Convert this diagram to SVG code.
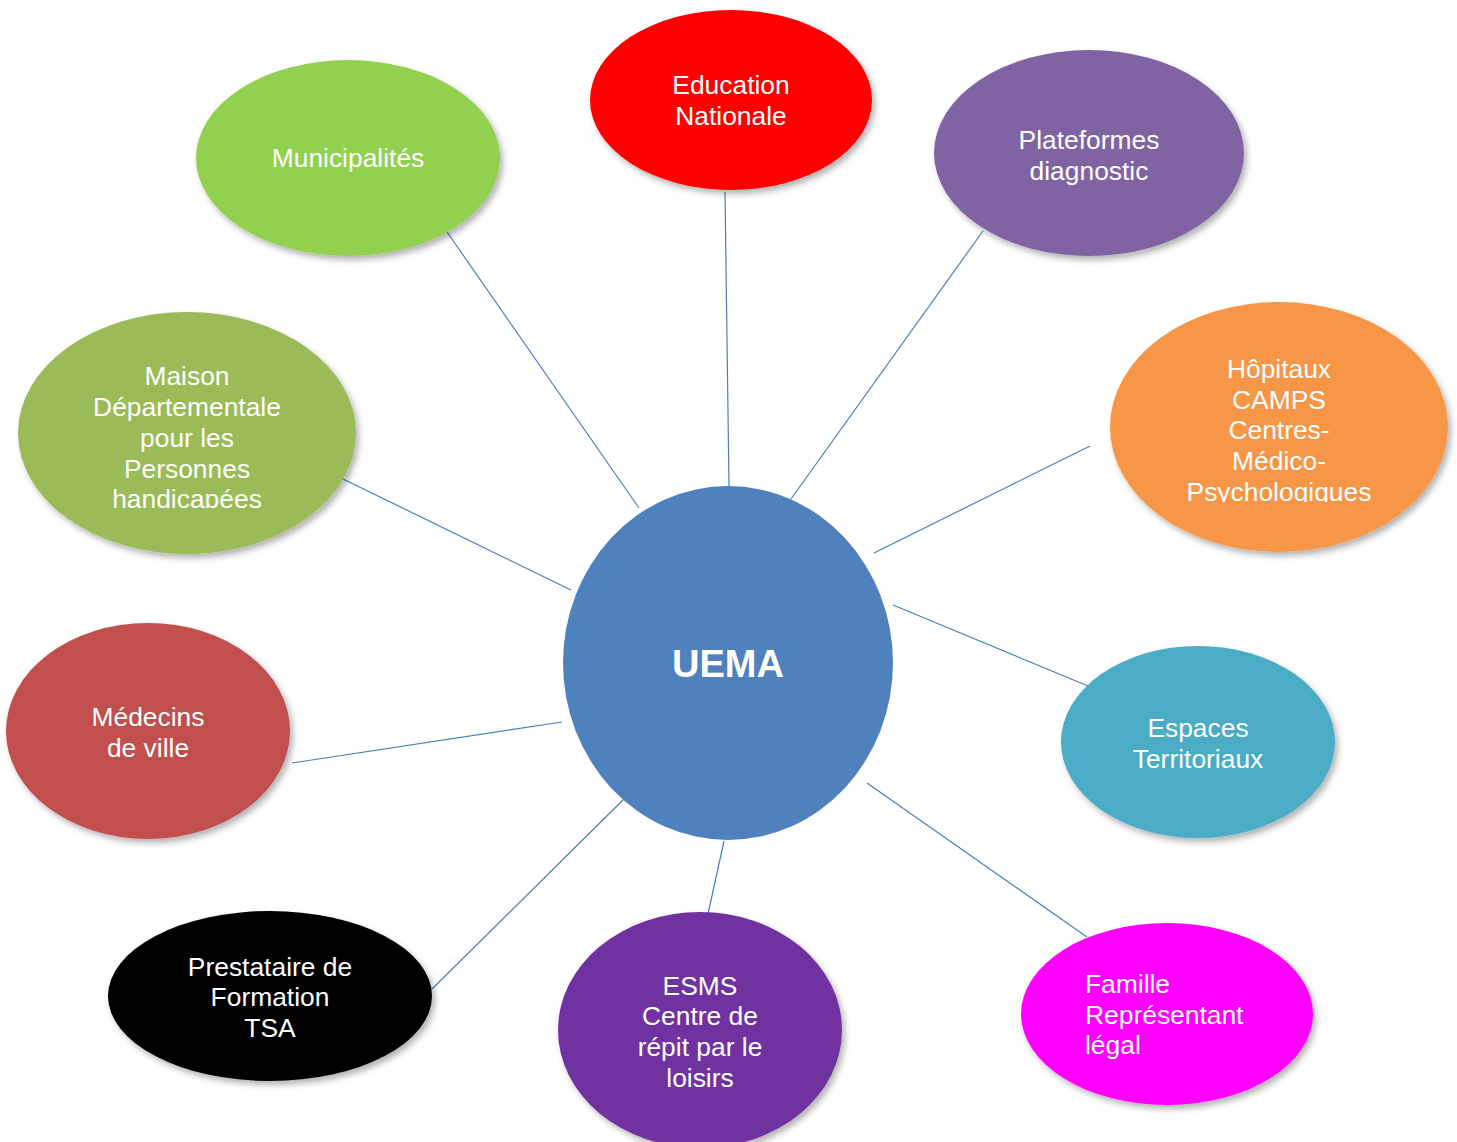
<svg xmlns="http://www.w3.org/2000/svg" width="1457" height="1142" viewBox="0 0 1457 1142">
<style>
.lbl{font-family:"Liberation Sans",Arial,sans-serif;font-size:26.4px;fill:#fff;text-anchor:middle}
.conn line{stroke:#4A7EBB;stroke-width:1.2}
</style>
<defs>
<filter id="sh" x="-10%" y="-10%" width="125%" height="130%">
<feDropShadow dx="3" dy="4" stdDeviation="3" flood-color="#000" flood-opacity="0.3"/>
</filter>
<clipPath id="cMaison"><rect x="0" y="300" width="400" height="208"/></clipPath>
<clipPath id="cHop"><rect x="1100" y="290" width="357" height="212"/></clipPath>
</defs>
<rect width="1457" height="1142" fill="#fff"/>
<g id="connectors" class="conn">
<line x1="447" y1="232" x2="639" y2="508"/>
<line x1="725" y1="192" x2="729" y2="486"/>
<line x1="983" y1="231" x2="791" y2="499"/>
<line x1="1090" y1="446" x2="874" y2="553"/>
<line x1="343" y1="479" x2="571" y2="590"/>
<line x1="893" y1="605" x2="1088" y2="686"/>
<line x1="292" y1="763" x2="562" y2="722"/>
<line x1="432" y1="989" x2="623" y2="800"/>
<line x1="724" y1="841" x2="706" y2="923"/>
<line x1="867" y1="783" x2="1087" y2="937"/>
</g>
<g id="uema">
<ellipse cx="728" cy="663" rx="165" ry="177" fill="#4F81BD"/>
<text x="728" y="677" class="lbl" style="font-size:38px;font-weight:bold">UEMA</text>
</g>
<g id="education">
<ellipse cx="731" cy="100" rx="141" ry="90" fill="#FF0000" filter="url(#sh)"/>
<text class="lbl"><tspan x="731" y="94">Education</tspan><tspan x="731" y="125">Nationale</tspan></text>
</g>
<g id="municipalites">
<ellipse cx="348" cy="158" rx="152" ry="98" fill="#92D050" filter="url(#sh)"/>
<text x="348" y="167" class="lbl">Municipalités</text>
</g>
<g id="plateformes">
<ellipse cx="1089" cy="153" rx="155" ry="103" fill="#8064A2" filter="url(#sh)"/>
<text class="lbl"><tspan x="1089" y="149">Plateformes</tspan><tspan x="1089" y="180">diagnostic</tspan></text>
</g>
<g id="maison">
<ellipse cx="187" cy="433" rx="169" ry="121" fill="#9BBB59" filter="url(#sh)"/>
<text class="lbl" clip-path="url(#cMaison)"><tspan x="187" y="385">Maison</tspan><tspan x="187" y="416">Départementale</tspan><tspan x="187" y="447">pour les</tspan><tspan x="187" y="478">Personnes</tspan><tspan x="187" y="508">handicapées</tspan></text>
</g>
<g id="hopitaux">
<ellipse cx="1279" cy="427" rx="169" ry="125" fill="#F79646" filter="url(#sh)"/>
<text class="lbl" clip-path="url(#cHop)"><tspan x="1279" y="378">Hôpitaux</tspan><tspan x="1279" y="409">CAMPS</tspan><tspan x="1279" y="439">Centres-</tspan><tspan x="1279" y="470">Médico-</tspan><tspan x="1279" y="501">Psychologiques</tspan></text>
</g>
<g id="medecins">
<ellipse cx="148" cy="731" rx="142" ry="108" fill="#C0504D" filter="url(#sh)"/>
<text class="lbl"><tspan x="148" y="726">Médecins</tspan><tspan x="148" y="757">de ville</tspan></text>
</g>
<g id="espaces">
<ellipse cx="1198" cy="742" rx="137" ry="96" fill="#4BACC6" filter="url(#sh)"/>
<text class="lbl"><tspan x="1198" y="737">Espaces</tspan><tspan x="1198" y="768">Territoriaux</tspan></text>
</g>
<g id="prestataire">
<ellipse cx="270" cy="996" rx="162" ry="85" fill="#000" filter="url(#sh)"/>
<text class="lbl"><tspan x="270" y="976">Prestataire de</tspan><tspan x="270" y="1006">Formation</tspan><tspan x="270" y="1037">TSA</tspan></text>
</g>
<g id="esms">
<ellipse cx="700" cy="1030" rx="142" ry="118" fill="#7030A0" filter="url(#sh)"/>
<text class="lbl"><tspan x="700" y="995">ESMS</tspan><tspan x="700" y="1025">Centre de</tspan><tspan x="700" y="1056">répit par le</tspan><tspan x="700" y="1087">loisirs</tspan></text>
</g>
<g id="famille">
<ellipse cx="1167" cy="1014" rx="146" ry="91" fill="#FF00FF" filter="url(#sh)"/>
<text class="lbl" style="text-anchor:start"><tspan x="1085" y="993">Famille</tspan><tspan x="1085" y="1024">Représentant</tspan><tspan x="1085" y="1054">légal</tspan></text>
</g>
</svg>
